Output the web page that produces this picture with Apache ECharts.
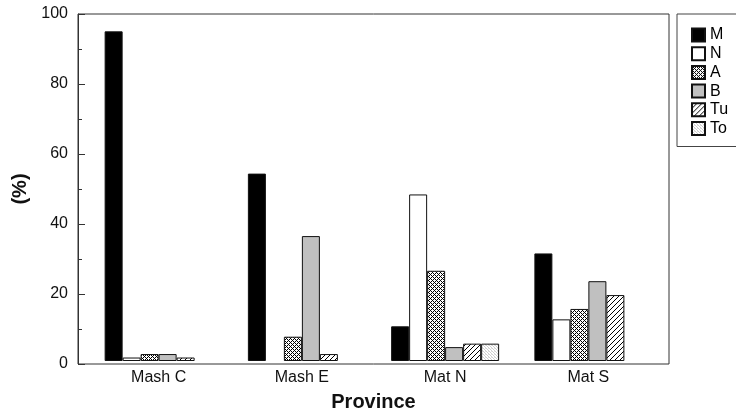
<!DOCTYPE html>
<html><head><meta charset="utf-8">
<script src="https://cdn.jsdelivr.net/npm/echarts@6/dist/echarts.min.js"></script>
<style>html,body{margin:0;padding:0;background:#fff}#c{width:736px;height:417px}</style>
</head><body><div id="c"></div>
<script>
var categories = ['Mash C', 'Mash E', 'Mat N', 'Mat S'];
var seriesNames = ['M', 'N', 'A', 'B', 'Tu', 'To'];
var valuesM  = [95, 54, 10, 31];
var valuesN  = [1, 0, 48, 12];
var valuesA  = [2, 7, 26, 15];
var valuesB  = [2, 36, 4, 23];
var valuesTu = [1, 2, 5, 19];
var valuesTo = [0, 0, 5, 0];
var yTicks = [0, 20, 40, 60, 80, 100];

function pat(size, draw) {
  var c = document.createElement('canvas');
  c.width = size; c.height = size;
  var g = c.getContext('2d');
  g.fillStyle = '#fff'; g.fillRect(0, 0, size, size);
  draw(g, size);
  return { image: c, repeat: 'repeat' };
}
var crossPat = pat(4, function (g) {
  g.fillStyle = '#000';
  g.fillRect(0, 0, 1, 1); g.fillRect(2, 2, 1, 1);
  g.fillRect(1, 1, 1, 1); g.fillRect(3, 3, 1, 1);
  g.fillRect(3, 1, 1, 1); g.fillRect(1, 3, 1, 1);
});
var diagPat = pat(5, function (g, s) {
  g.strokeStyle = '#000'; g.lineWidth = 1;
  for (var k = -1; k <= 1; k++) {
    g.beginPath(); g.moveTo(k * s, s); g.lineTo(k * s + s, 0); g.stroke();
  }
});
var dotPat = pat(3, function (g) {
  g.fillStyle = '#cfcfcf';
  g.fillRect(0, 0, 1, 1); g.fillRect(1, 1, 1, 1); g.fillRect(2, 2, 1, 1);
  g.fillStyle = '#e4e4e4'; g.fillRect(2, 0, 1, 1);
});

var fills = [ '#000', '#fff', crossPat, '#c0c0c0', diagPat, dotPat ];
var data = [valuesM, valuesN, valuesA, valuesB, valuesTu, valuesTo];
var font = 'Liberation Sans, Arial, sans-serif';

var series = seriesNames.map(function (n, i) {
  return {
    name: n, type: 'bar', xAxisIndex: 1, yAxisIndex: 1,
    barWidth: 18, barGap: '0%',
    itemStyle: { color: fills[i], borderColor: '#111', borderWidth: 1 },
    data: data[i].map(function (v) { return v === 0 ? '-' : v; })
  };
});

var chart = echarts.init(document.getElementById('c'), null, { renderer: 'canvas' });
chart.setOption({
  animation: false,
  textStyle: { fontFamily: font },
  grid: [
    { left: 78, right: 67, top: 14, bottom: 53, show: true, borderColor: '#333', borderWidth: 1, backgroundColor: 'transparent' },
    { left: 87, right: 76, top: 14, bottom: 53 }
  ],
  legend: {
    orient: 'vertical', left: 677, top: 14,
    icon: 'rect',
    itemWidth: 13, itemHeight: 13, itemGap: 2.7,
    padding: [13, 40, 10, 14],
    borderColor: '#444', borderWidth: 1,
    textStyle: { fontFamily: font, fontSize: 16, color: '#000' },
    data: seriesNames
  },
  xAxis: [
    { type: 'value', gridIndex: 0, show: false, min: 0, max: 1 },
    { type: 'category', gridIndex: 1, data: categories,
      axisLine: { show: false }, axisTick: { show: false },
      axisLabel: { fontSize: 16, color: '#111', margin: 9, fontFamily: font },
      name: 'Province', nameLocation: 'middle', nameGap: 31,
      nameTextStyle: { fontSize: 20, fontWeight: 'bold', color: '#111', fontFamily: font } }
  ],
  yAxis: [
    { type: 'value', gridIndex: 0, min: yTicks[0], max: yTicks[yTicks.length - 1], interval: 20,
      axisLine: { show: true, lineStyle: { color: '#333' } },
      axisTick: { show: true, inside: true, length: 7, lineStyle: { color: '#333' } },
      minorTick: { show: true, splitNumber: 2, length: 4, lineStyle: { color: '#333' } },
      splitLine: { show: false },
      axisLabel: { fontSize: 16, color: '#111', margin: 10, fontFamily: font },
      name: '(%)', nameLocation: 'middle', nameGap: 43, nameRotate: 90,
      nameTextStyle: { fontSize: 20, fontWeight: 'bold', color: '#111', fontFamily: font } },
    { type: 'value', gridIndex: 1, min: yTicks[0], max: yTicks[yTicks.length - 1], show: false, splitLine: { show: false } }
  ],
  series: series
});
</script>
</body></html>
